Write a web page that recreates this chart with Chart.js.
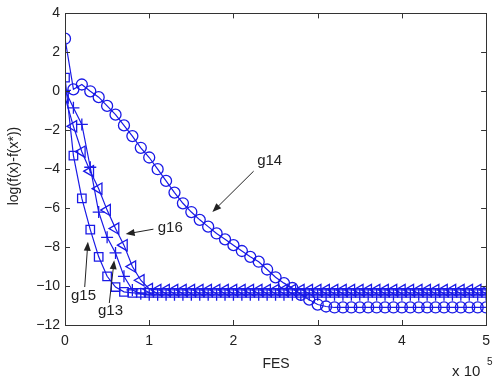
<!DOCTYPE html>
<html>
<head>
<meta charset="utf-8">
<script src="https://cdn.jsdelivr.net/npm/chart.js@4.4.1/dist/chart.umd.min.js"></script>
<style>
  html, body { margin: 0; padding: 0; background: #fff; }
  #wrap { width: 498px; height: 383px; }
</style>
</head>
<body>
<div id="wrap"><canvas id="fes-chart" width="498" height="383"></canvas></div>
<script>
// FES in units of 1e5
const fes = [0, 0.1, 0.2, 0.3, 0.4, 0.5, 0.6, 0.7, 0.8, 0.9,
  1.0, 1.1, 1.2, 1.3, 1.4, 1.5, 1.6, 1.7, 1.8, 1.9,
  2.0, 2.1, 2.2, 2.3, 2.4, 2.5, 2.6, 2.7, 2.8, 2.9,
  3.0, 3.1, 3.2, 3.3, 3.4, 3.5, 3.6, 3.7, 3.8, 3.9,
  4.0, 4.1, 4.2, 4.3, 4.4, 4.5, 4.6, 4.7, 4.8, 4.9, 5.0];

const g14 = [2.7, 0.1, 0.35, 0.0, -0.3, -0.75, -1.2, -1.75, -2.3, -2.9,
  -3.4, -4.0, -4.6, -5.2, -5.75, -6.2, -6.6, -6.95, -7.3, -7.6,
  -7.9, -8.2, -8.5, -8.75, -9.15, -9.55, -9.85, -10.1, -10.45, -10.7,
  -10.95, -11.05, -11.1, -11.1, -11.1, -11.1, -11.1, -11.1, -11.1, -11.1,
  -11.1, -11.1, -11.1, -11.1, -11.1, -11.1, -11.1, -11.1, -11.1, -11.1, -11.1];

const g15 = [0.7, -3.3, -5.5, -7.1, -8.5, -9.5, -10.05, -10.3, -10.35, -10.35,
  -10.35, -10.35, -10.35, -10.35, -10.35, -10.35, -10.35, -10.35, -10.35, -10.35,
  -10.35, -10.35, -10.35, -10.35, -10.35, -10.35, -10.35, -10.35, -10.35, -10.35,
  -10.35, -10.35, -10.35, -10.35, -10.35, -10.35, -10.35, -10.35, -10.35, -10.35,
  -10.35, -10.35, -10.35, -10.35, -10.35, -10.35, -10.35, -10.35, -10.35, -10.35, -10.35];

const g16 = [-0.3, -1.8, -3.1, -4.1, -5.0, -6.1, -7.05, -7.9, -9.0, -9.7,
  -10.15, -10.2, -10.2, -10.2, -10.2, -10.2, -10.2, -10.2, -10.2, -10.2,
  -10.2, -10.2, -10.2, -10.2, -10.2, -10.2, -10.2, -10.2, -10.2, -10.2,
  -10.2, -10.2, -10.2, -10.2, -10.2, -10.2, -10.2, -10.2, -10.2, -10.2,
  -10.2, -10.2, -10.2, -10.2, -10.2, -10.2, -10.2, -10.2, -10.2, -10.2, -10.2];

const g13 = [0.05, -0.85, -1.7, -3.9, -6.2, -7.5, -8.3, -9.5, -10.2, -10.4,
  -10.45, -10.45, -10.45, -10.45, -10.45, -10.45, -10.45, -10.45, -10.45, -10.45,
  -10.45, -10.45, -10.45, -10.45, -10.45, -10.45, -10.45, -10.45, -10.45, -10.45,
  -10.45, -10.45, -10.45, -10.45, -10.45, -10.45, -10.45, -10.45, -10.45, -10.45,
  -10.45, -10.45, -10.45, -10.45, -10.45, -10.45, -10.45, -10.45, -10.45, -10.45, -10.45];

const xTicks = [0, 1, 2, 3, 4, 5];
const yTicks = [-12, -10, -8, -6, -4, -2, 0, 2, 4];

// labels with arrows: text position, arrow start, arrow tip (data coords)
const notes = [
  { text: "g14", at: [2.43, -3.55], from: [2.24, -4.1], to: [1.75, -6.2] },
  { text: "g16", at: [1.25, -7.03], from: [1.05, -7.08], to: [0.72, -7.33] },
  { text: "g15", at: [0.22, -10.51], from: [0.234, -10.05], to: [0.272, -7.73] },
  { text: "g13", at: [0.54, -11.28], from: [0.526, -10.87], to: [0.584, -8.67] },
];

const blue = "#1a1ae6";
const fontFam = "'Liberation Sans', Arial, sans-serif";

function toPoints(ys) {
  return fes.map((x, i) => ({ x: x, y: ys[i] }));
}

function series(label, ys, style, radius, rotation) {
  return {
    label: label,
    data: toPoints(ys),
    showLine: true,
    borderColor: blue,
    borderWidth: 1.2,
    backgroundColor: "rgba(0,0,0,0)",
    pointStyle: style,
    pointRadius: radius,
    pointRotation: rotation || 0,
    pointBorderColor: blue,
    pointBorderWidth: 1.3,
    pointBackgroundColor: "rgba(0,0,0,0)",
  };
}

const matlabAxes = {
  id: "matlabAxes",
  afterDraw(chart) {
    const ctx = chart.ctx;
    const a = chart.chartArea;
    const xs = chart.scales.x;
    const ys = chart.scales.y;
    ctx.save();
    ctx.strokeStyle = "#333";
    ctx.lineWidth = 1;
    ctx.strokeRect(Math.round(a.left) + 0.5, Math.round(a.top) + 0.5,
      Math.round(a.right - a.left), Math.round(a.bottom - a.top));
    ctx.beginPath();
    xTicks.forEach((v) => {
      const px = Math.round(xs.getPixelForValue(v)) + 0.5;
      ctx.moveTo(px, a.bottom); ctx.lineTo(px, a.bottom - 5);
      ctx.moveTo(px, a.top); ctx.lineTo(px, a.top + 5);
    });
    yTicks.forEach((v) => {
      const py = Math.round(ys.getPixelForValue(v)) + 0.5;
      ctx.moveTo(a.left, py); ctx.lineTo(a.left + 5, py);
      ctx.moveTo(a.right, py); ctx.lineTo(a.right - 5, py);
    });
    ctx.stroke();

    // annotations
    ctx.fillStyle = "#222";
    ctx.strokeStyle = "#222";
    ctx.font = "15px " + fontFam;
    ctx.textAlign = "center";
    ctx.textBaseline = "middle";
    notes.forEach((n) => {
      ctx.fillText(n.text, xs.getPixelForValue(n.at[0]), ys.getPixelForValue(n.at[1]));
      const x1 = xs.getPixelForValue(n.from[0]), y1 = ys.getPixelForValue(n.from[1]);
      const x2 = xs.getPixelForValue(n.to[0]), y2 = ys.getPixelForValue(n.to[1]);
      const ang = Math.atan2(y2 - y1, x2 - x1);
      ctx.beginPath();
      ctx.moveTo(x1, y1);
      ctx.lineTo(x2 - 6 * Math.cos(ang), y2 - 6 * Math.sin(ang));
      ctx.stroke();
      ctx.beginPath();
      ctx.moveTo(x2, y2);
      ctx.lineTo(x2 - 9 * Math.cos(ang) + 3.5 * Math.sin(ang), y2 - 9 * Math.sin(ang) - 3.5 * Math.cos(ang));
      ctx.lineTo(x2 - 9 * Math.cos(ang) - 3.5 * Math.sin(ang), y2 - 9 * Math.sin(ang) + 3.5 * Math.cos(ang));
      ctx.closePath();
      ctx.fill();
    });

    // axis titles
    ctx.font = "14px " + fontFam;
    ctx.fillText("FES", (a.left + a.right) / 2 + 0.5, 364);
    ctx.save();
    ctx.translate(14, 166);
    ctx.rotate(-Math.PI / 2);
    ctx.fillText("log(f(x)-f(x*))", 0, 0);
    ctx.restore();
    ctx.textAlign = "left";
    ctx.font = "15px " + fontFam;
    ctx.fillText("x 10", 452, 372);
    ctx.font = "10px " + fontFam;
    ctx.fillText("5", 487, 362);
    ctx.restore();
  },
};

const config = {
  type: "scatter",
  data: {
    datasets: [
      series("g14", g14, "circle", 5.5),
      series("g16", g16, "triangle", 6.5, -90),
      series("g15", g15, "rect", 6),
      series("g13", g13, "cross", 6),
    ],
  },
  options: {
    responsive: false,
    animation: false,
    layout: { padding: { top: 13, right: 5, left: 0, bottom: 0 } },
    scales: {
      x: {
        type: "linear",
        min: 0,
        max: 5,
        afterBuildTicks: (s) => { s.ticks = xTicks.map((v) => ({ value: v })); },
        afterFit: (s) => { s.height = 58; },
        grid: { display: false, drawTicks: false },
        border: { display: false },
        ticks: {
          padding: 8,
          color: "#222",
          font: { size: 14, family: fontFam },
          callback: (v) => String(v),
        },
      },
      y: {
        type: "linear",
        min: -12,
        max: 4,
        afterBuildTicks: (s) => { s.ticks = yTicks.map((v) => ({ value: v })); },
        afterFit: (s) => { s.width = 65; },
        grid: { display: false, drawTicks: false },
        border: { display: false },
        ticks: {
          padding: 5,
          color: "#222",
          font: { size: 14, family: fontFam },
          callback: (v) => (v < 0 ? "\u2212" + (-v) : String(v)),
        },
      },
    },
    plugins: {
      legend: { display: false },
      tooltip: { enabled: false },
    },
  },
  plugins: [matlabAxes],
};

const myChart = new Chart(document.getElementById("fes-chart"), config);
</script>
</body>
</html>
